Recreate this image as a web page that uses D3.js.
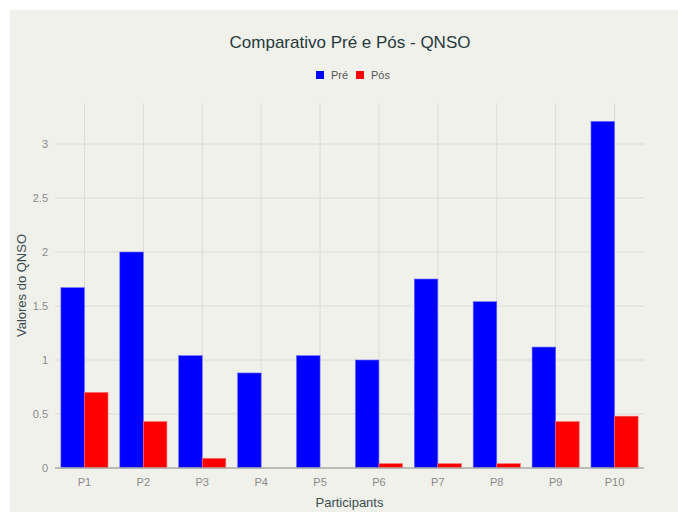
<!DOCTYPE html>
<html>
<head>
<meta charset="utf-8">
<script src="https://cdn.jsdelivr.net/npm/d3@7"></script>
<style>
  body { margin: 0; background: #ffffff; }
  svg { display: block; font-family: "Liberation Sans", Arial, sans-serif; }
</style>
</head>
<body>
<div id="chart"></div>
<script>
var participants = ["P1", "P2", "P3", "P4", "P5", "P6", "P7", "P8", "P9", "P10"];
var pre = [1.67, 2.0, 1.04, 0.88, 1.04, 1.0, 1.75, 1.54, 1.12, 3.21];
var pos = [0.70, 0.43, 0.09, 0, 0, 0.04, 0.04, 0.04, 0.43, 0.48];
var seriesNames = ["Pré", "Pós"];
var seriesColors = ["#0000ff", "#ff0000"];
var yTicks = [0, 0.5, 1, 1.5, 2, 2.5, 3];

var W = 678, H = 512;
var margin = { top: 103, right: 34, bottom: 44, left: 55 },
    width = W - margin.left - margin.right,
    height = H - margin.top - margin.bottom;

var root = d3.select("#chart").append("svg")
    .attr("width", W)
    .attr("height", H);

// paper background
root.append("rect")
    .attr("x", 10).attr("y", 10)
    .attr("width", W - 10).attr("height", H - 10)
    .attr("fill", "#f1f1ec");

var svg = root.append("g")
    .attr("transform", "translate(" + margin.left + "," + margin.top + ")");

var x = d3.scaleBand().domain(participants).range([0, width]).paddingInner(0.2).paddingOuter(0.1);
var xs = d3.scaleBand().domain(seriesNames).range([0, x.bandwidth()]);
var y = d3.scaleLinear().domain([0, 3.38]).range([height, 0]);

// gridlines
svg.append("g").selectAll("line.v")
    .data(participants)
    .enter().append("line")
    .attr("x1", function (d) { return x(d) + x.bandwidth() / 2 })
    .attr("x2", function (d) { return x(d) + x.bandwidth() / 2 })
    .attr("y1", 0).attr("y2", height)
    .attr("stroke", "#dcdcd6").attr("stroke-width", 1);

svg.append("g").selectAll("line.h")
    .data(yTicks.slice(1))
    .enter().append("line")
    .attr("x1", 0).attr("x2", width)
    .attr("y1", function (d) { return y(d) })
    .attr("y2", function (d) { return y(d) })
    .attr("stroke", "#dcdcd6").attr("stroke-width", 1);

// bars
var rows = participants.map(function (p, i) { return { p: p, values: [pre[i], pos[i]] } });
var groups = svg.append("g").selectAll("g")
    .data(rows)
    .enter().append("g")
    .attr("transform", function (d) { return "translate(" + x(d.p) + ",0)" });

groups.selectAll("rect")
    .data(function (d) { return d.values.map(function (v, j) { return { s: j, v: v } }) })
    .enter().append("rect")
    .filter(function (d) { return d.v > 0 })
    .attr("x", function (d) { return xs(seriesNames[d.s]) })
    .attr("width", xs.bandwidth())
    .attr("y", function (d) { return y(d.v) })
    .attr("height", function (d) { return height - y(d.v) })
    .attr("fill", function (d) { return seriesColors[d.s] })
    .attr("stroke", function (d) { return d.s === 0 ? "#6b6bff" : "#ff7070" })
    .attr("stroke-width", 0.6);

// zero line
svg.append("line")
    .attr("x1", 0).attr("x2", width)
    .attr("y1", y(0)).attr("y2", y(0))
    .attr("stroke", "#a8a8a4").attr("stroke-width", 1.5);

// axes
var yAxis = svg.append("g")
    .call(d3.axisLeft(y).tickValues(yTicks).tickSize(0).tickPadding(7).tickFormat(d3.format("")));
yAxis.select(".domain").remove();
yAxis.selectAll("text").attr("fill", "#8a8a8a").style("font-size", "11px");

var xAxis = svg.append("g")
    .attr("transform", "translate(0," + height + ")")
    .call(d3.axisBottom(x).tickSize(0).tickPadding(10));
xAxis.select(".domain").remove();
xAxis.selectAll("text").attr("fill", "#8a8a8a").style("font-size", "11px");

// titles
root.append("text")
    .attr("x", 350).attr("y", 48)
    .attr("text-anchor", "middle")
    .attr("fill", "#263a3c")
    .style("font-size", "17px")
    .text("Comparativo Pré e Pós - QNSO");

root.append("text")
    .attr("x", margin.left + width / 2).attr("y", 507)
    .attr("text-anchor", "middle")
    .attr("fill", "#3a4c50")
    .style("font-size", "13px")
    .text("Participants");

root.append("text")
    .attr("transform", "translate(26," + (margin.top + height / 2) + ") rotate(-90)")
    .attr("text-anchor", "middle")
    .attr("fill", "#3a4c50")
    .style("font-size", "13px")
    .text("Valores do QNSO");

// legend
var legend = root.append("g").attr("transform", "translate(316,75)");
var lg = legend.selectAll("g")
    .data(seriesNames)
    .enter().append("g")
    .attr("transform", function (d, i) { return "translate(" + (i * 40) + ",0)" });
lg.append("rect")
    .attr("x", 0).attr("y", -4).attr("width", 8).attr("height", 8)
    .attr("fill", function (d, i) { return seriesColors[i] });
lg.append("text")
    .attr("x", 15).attr("y", 0)
    .attr("dominant-baseline", "central")
    .attr("fill", "#555")
    .style("font-size", "11px")
    .text(function (d) { return d });
</script>
</body>
</html>
